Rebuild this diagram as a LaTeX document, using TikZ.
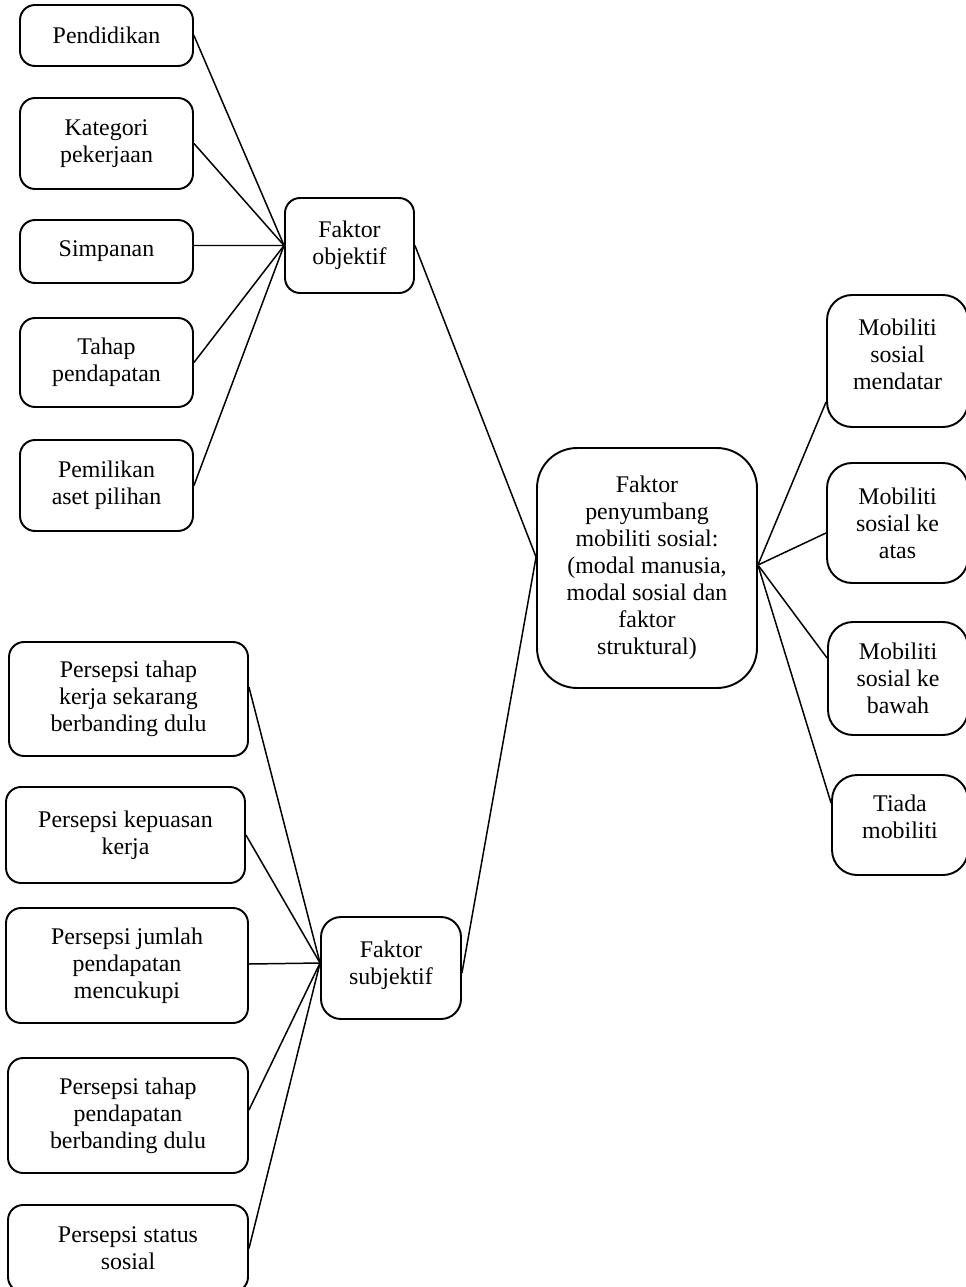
\documentclass[tikz,border=0pt]{standalone}
\usepackage{fontspec}
\setmainfont{Liberation Serif}
\usepackage{tikz}

\tikzset{
  kotak/.style={draw, line width=1.1pt, rounded corners=0.3cm, align=center, inner sep=2pt,
    font=\fontsize{13.6}{15.4}\selectfont},
  garis/.style={line width=0.85pt}
}

\begin{document}
\begin{tikzpicture}[x=0.02cm, y=-0.02cm]
	\useasboundingbox (0,0) rectangle (966,1287);
	% faktor objektif
	\node[kotak, minimum width=3.46cm, minimum height=1.22cm] (p1) at (106.5,35.5) {Pendidikan};
	\node[kotak, minimum width=3.46cm, minimum height=1.82cm] (p2) at (106.5,143.5) {Kategori\\pekerjaan};
	\node[kotak, minimum width=3.46cm, minimum height=1.26cm] (p3) at (106.5,251.5) {Simpanan};
	\node[kotak, minimum width=3.46cm, minimum height=1.78cm] (p4) at (106.5,362.5) {Tahap\\pendapatan};
	\node[kotak, minimum width=3.46cm, minimum height=1.82cm] (p5) at (106.5,485.5) {Pemilikan\\aset pilihan};
	\node[kotak, minimum width=2.58cm, minimum height=1.9cm] (fo) at (349.5,245.5) {Faktor\\objektif};
	% faktor subjektif
	\node[kotak, minimum width=4.78cm, minimum height=2.28cm] (s1) at (128.5,699) {Persepsi tahap\\kerja sekarang\\berbanding dulu};
	\node[kotak, minimum width=4.78cm, minimum height=1.92cm] (s2) at (125.5,835) {Persepsi kepuasan\\kerja};
	\node[kotak, minimum width=4.84cm, minimum height=2.3cm] (s3) at (127,965.5) {Persepsi jumlah\\pendapatan\\mencukupi};
	\node[kotak, minimum width=4.8cm, minimum height=2.3cm] (s4) at (128,1115.5) {Persepsi tahap\\pendapatan\\berbanding dulu};
	\node[kotak, minimum width=4.8cm, minimum height=1.74cm] (s5) at (128,1248.5) {Persepsi status\\sosial};
	\node[kotak, minimum width=2.8cm, minimum height=2.04cm, rounded corners=0.4cm, text depth=0.2cm] (fs) at (391,968) {Faktor\\subjektif};
	% tengah
	\node[kotak, minimum width=4.4cm, minimum height=4.8cm, rounded corners=0.8cm] (tengah) at (647,568)
		{Faktor\\penyumbang\\mobiliti sosial:\\(modal manusia,\\modal sosial dan\\faktor\\struktural)};
	% jenis mobiliti
	\node[kotak, minimum width=2.82cm, minimum height=2.64cm, rounded corners=0.5cm, text depth=0.28cm] (r1) at (897.5,361) {Mobiliti\\sosial\\mendatar};
	\node[kotak, minimum width=2.82cm, minimum height=2.4cm, rounded corners=0.5cm] (r2) at (897.5,523) {Mobiliti\\sosial ke\\atas};
	\node[kotak, minimum width=2.8cm, minimum height=2.26cm, rounded corners=0.5cm] (r3) at (898,678.5) {Mobiliti\\sosial ke\\bawah};
	\node[kotak, minimum width=2.72cm, minimum height=2cm, rounded corners=0.5cm, text depth=0.32cm] (r4) at (900,825) {Tiada\\mobiliti};
	% garis penghubung
	\coordinate (hubo) at (fo.west);
	\coordinate (hubs) at ([yshift=0.1cm]fs.west);
	\coordinate (hubl) at ([yshift=0.22cm]tengah.west);
	\coordinate (hubr) at ([yshift=0.06cm]tengah.east);
	\foreach \k in {p1,p2,p4,p5} {
		\draw[garis] (\k.east) -- (hubo);
	}
	\draw[garis] ([yshift=0.12cm]p3.east) -- (hubo);
	\draw[garis] ([yshift=0.24cm]s1.east) -- (hubs);
	\draw[garis] (s2.east) -- (hubs);
	\draw[garis] ([yshift=0.03cm]s3.east) -- (hubs);
	\draw[garis] ([yshift=0.11cm]s4.east) -- (hubs);
	\draw[garis] (s5.east) -- (hubs);
	\draw[garis] (fo.east) -- (hubl);
	\draw[garis] ([yshift=-0.1cm]fs.east) -- (hubl);
	\draw[garis] (hubr) -- ([yshift=-0.82cm]r1.west);
	\draw[garis] (hubr) -- ([yshift=-0.2cm]r2.west);
	\draw[garis] (hubr) -- ([yshift=0.41cm]r3.west);
	\draw[garis] (hubr) -- ([yshift=0.44cm]r4.west);
\end{tikzpicture}
\end{document}
